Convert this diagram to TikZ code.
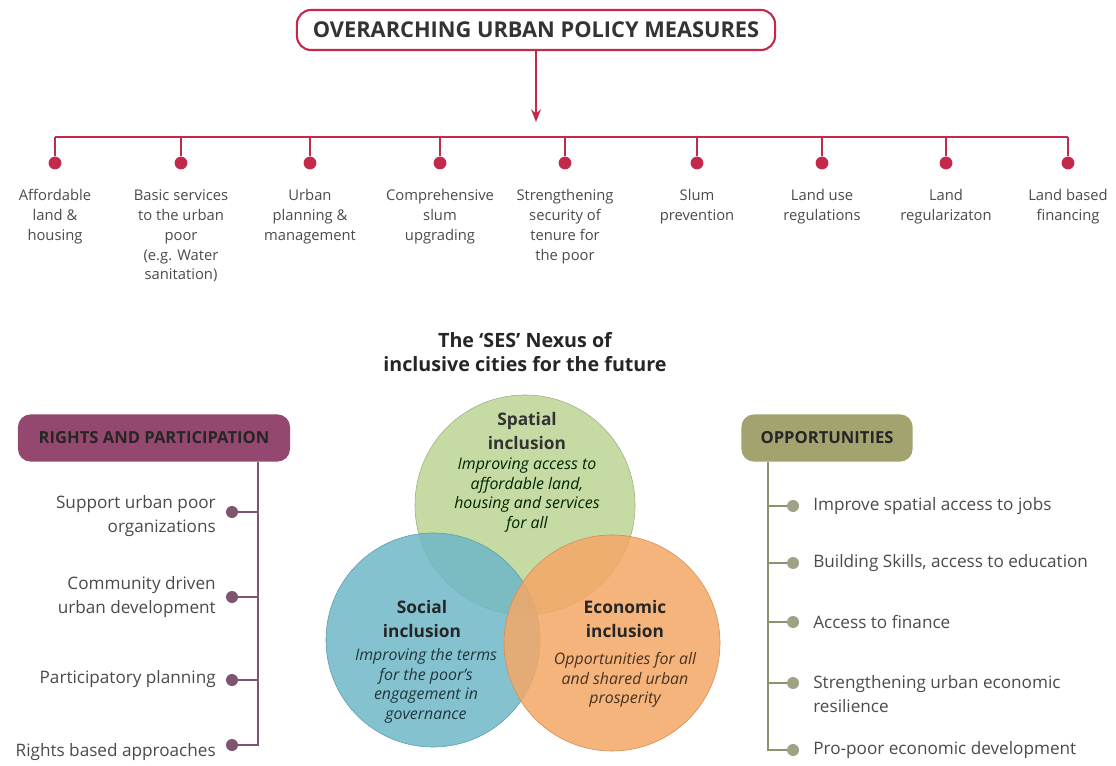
\documentclass[tikz,border=0pt]{standalone}
\usepackage{fontspec}
\setmainfont{Open Sans}
\usetikzlibrary{positioning,arrows.meta}

\definecolor{crimson}{HTML}{C4284A}
\definecolor{plum}{HTML}{94476F}
\definecolor{plumline}{HTML}{7E5470}
\definecolor{olive}{HTML}{A2A36F}
\definecolor{oliveline}{HTML}{8F9070}
\definecolor{txtgray}{HTML}{4A4A4A}
\definecolor{spatialfill}{HTML}{C6DAA3}
\definecolor{socialfill}{HTML}{6FB7C8}
\definecolor{econfill}{HTML}{F4A766}

\begin{document}
\begin{tikzpicture}[x=0.025cm, y=-0.025cm,
    rline/.style={crimson, line width=1.2pt},
    rdot/.style={circle, fill=crimson, inner sep=0pt, minimum size=0.32cm},
    mlabel/.style={anchor=north, align=center, inner sep=0pt, text=txtgray,
      font=\fontsize{10.5}{14.2}\selectfont},
    pdot/.style={circle, fill=plumline, inner sep=0pt, minimum size=0.3cm},
    odot/.style={circle, fill=oliveline!85, inner sep=0pt, minimum size=0.3cm},
    item/.style={inner sep=0pt, text=txtgray, font=\fontsize{12.2}{16.5}\selectfont},
    headbox/.style={rounded corners=9pt, minimum height=1.18cm, text=black!85,
      font=\fontsize{11.8}{14}\selectfont\bfseries},
    venn/.style={circle, inner sep=0pt},
    vtitle/.style={align=center, inner sep=0pt, font=\fontsize{12.3}{16.8}\selectfont\bfseries},
    vtext/.style={align=center, inner sep=0pt, font=\fontsize{11.3}{14}\selectfont\itshape}]
\useasboundingbox (0,0) rectangle (1116,766);

% Overarching measures
\node[draw=crimson, line width=1.5pt, rounded corners=10pt, fill=white,
  minimum width=11.95cm, minimum height=1cm, text=black!80,
  font=\fontsize{15.5}{17}\selectfont\bfseries] (top) at (536,30)
  {OVERARCHING URBAN POLICY MEASURES};
\coordinate (arrowend) at (536,122);
\coordinate (bar) at (536,137);
\draw[rline, -{Stealth[length=9pt, width=7pt]}] (top) -- (arrowend);

\node[rdot] (d1) at (55,163) {};
\node[rdot] (d2) at (181,163) {};
\node[rdot] (d3) at (310,163) {};
\node[rdot] (d4) at (440,163) {};
\node[rdot] (d5) at (565,163) {};
\node[rdot] (d6) at (697,163) {};
\node[rdot] (d7) at (822,163) {};
\node[rdot] (d8) at (946,163) {};
\node[rdot] (d9) at (1068,163) {};
\draw[rline] (d1 |- bar) -- (d9 |- bar);
\draw[rline] (d1) -- (d1 |- bar) (d2) -- (d2 |- bar) (d3) -- (d3 |- bar)
  (d4) -- (d4 |- bar) (d5) -- (d5 |- bar) (d6) -- (d6 |- bar)
  (d7) -- (d7 |- bar) (d8) -- (d8 |- bar) (d9) -- (d9 |- bar);

% Measure labels
\node[mlabel] (l1) at (55,189) {Affordable\\land \&\\housing};
\node[mlabel] (l2) at (181,189) {Basic services\\to the urban\\poor\\(e.g. Water\\sanitation)};
\node[mlabel] (l3) at (310,189) {Urban\\planning \&\\management};
\node[mlabel] (l4) at (440,189) {Comprehensive\\slum\\upgrading};
\node[mlabel] (l5) at (565,189) {Strengthening\\security of\\tenure for\\the poor};
\node[mlabel] (l6) at (697,189) {Slum\\prevention};
\node[mlabel] (l7) at (822,189) {Land use\\regulations};
\node[mlabel] (l8) at (946,189) {Land\\regularizaton};
\node[mlabel] (l9) at (1068,189) {Land based\\financing};

% Nexus heading
\node[align=center, text=black!85, font=\fontsize{14}{17}\selectfont\bfseries]
  (nexus) at (525,352) {The `SES' Nexus of\\inclusive cities for the future};

% Venn circles
\node[venn, fill=spatialfill, draw=spatialfill!80!black, minimum size=5.5cm] (spatial) at (525,505) {};
\node[venn, fill=socialfill, fill opacity=0.85, draw=socialfill!85!black, minimum size=5.35cm] (social) at (433,640) {};
\node[venn, fill=econfill, fill opacity=0.85, draw=econfill!85!black, minimum size=5.4cm] (econ) at (612,643) {};

\node[vtitle, text=black!80] (spt) at (527,431) {Spatial\\inclusion};
\node[vtext, text=black!65!green!40!black] (spx) at (527,495)
  {Improving access to\\affordable land,\\housing and services\\for all};
\node[vtitle, text=black!85] (sot) at (422,619) {Social\\inclusion};
\node[vtext, text=socialfill!30!black] (sox) at (426,686)
  {Improving the terms\\for the poor's\\engagement in\\governance};
\node[vtitle, text=black!85] (ect) at (625,619) {Economic\\inclusion};
\node[vtext, text=econfill!30!black] (ecx) at (625,680)
  {Opportunities for all\\and shared urban\\prosperity};

% Rights and participation
\node[headbox, fill=plum, minimum width=6.8cm] (rp) at (154,438) {RIGHTS AND PARTICIPATION};
\coordinate (rpend) at (258,745);
\node[pdot] (p1) at (232,512) {};
\node[pdot] (p2) at (232,597) {};
\node[pdot] (p3) at (232,680) {};
\node[pdot] (p4) at (232,745) {};
\draw[plumline, line width=1pt] (rp.south -| rpend) -- (rpend) -- (p4);
\draw[plumline, line width=1pt] (p1) -- (p1 -| rpend) (p2) -- (p2 -| rpend) (p3) -- (p3 -| rpend);
\node[item, anchor=east, align=right] (r1) at (216,516) {Support urban poor\\organizations};
\node[item, anchor=east, align=right] (r2) at (216,597) {Community driven\\urban development};
\node[item, anchor=east] (r3) at (216,679) {Participatory planning};
\node[item, anchor=east] (r4) at (216,752) {Rights based approaches};

% Opportunities
\node[headbox, fill=olive, minimum width=4.28cm] (op) at (827,438) {OPPORTUNITIES};
\coordinate (opend) at (768,750);
\node[odot] (o1) at (793,506) {};
\node[odot] (o2) at (793,563) {};
\node[odot] (o3) at (793,622) {};
\node[odot] (o4) at (793,683) {};
\node[odot] (o5) at (793,750) {};
\draw[oliveline, line width=1pt] (op.south -| opend) -- (opend) -- (o5);
\draw[oliveline, line width=1pt] (o1) -- (o1 -| opend) (o2) -- (o2 -| opend)
  (o3) -- (o3 -| opend) (o4) -- (o4 -| opend);
\node[item, anchor=west] (t1) at (813,506) {Improve spatial access to jobs};
\node[item, anchor=west] (t2) at (813,563) {Building Skills, access to education};
\node[item, anchor=west] (t3) at (813,622) {Access to finance};
\node[item, anchor=west, align=left] (t4) at (813,694) {Strengthening urban economic\\resilience};
\node[item, anchor=west] (t5) at (813,750) {Pro-poor economic development};
\end{tikzpicture}
\end{document}
